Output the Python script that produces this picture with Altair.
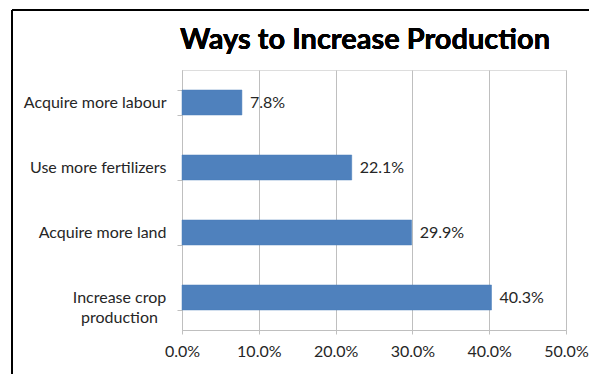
import altair as alt
import pandas as pd

title_text = "Ways to Increase Production"
categories = ["Acquire more labour", "Use more fertilizers", "Acquire more land", "Increase crop production"]
values = [7.8, 22.1, 29.9, 40.3]
x_ticks = [0, 10, 20, 30, 40, 50]

df = pd.DataFrame({"cat": categories, "val": values,
                   "lab": [f"{v:.1f}%" for v in values]})

FONT = "Lato"
GRAY = "#bfbfbf"
TXT = "#262626"
FS = 16
WRAPPED = "datum.value == 'Increase crop production'"

y_enc = alt.Y("cat:N", sort=categories,
              scale=alt.Scale(paddingInner=0.615, paddingOuter=0.3075),
              axis=alt.Axis(title=None, tickBand="extent", tickSize=5, tickColor=GRAY,
                            domainColor=GRAY,
                            labelPadding={"condition": {"test": WRAPPED, "value": 58}, "value": 11},
                            labelAlign={"condition": {"test": WRAPPED, "value": "center"}, "value": "right"},
                            labelFontSize=FS, labelColor=TXT, labelFont=FONT, grid=False,
                            labelExpr="datum.label == 'Increase crop production' ? ['Increase crop', 'production'] : datum.label",
                            labelLineHeight=20))
x_enc = alt.X("val:Q", scale=alt.Scale(domain=[0, 50], nice=False),
              axis=alt.Axis(title=None, values=x_ticks, labelExpr="format(datum.value, '.1f') + '%'",
                            tickSize=4, tickColor=GRAY, domainColor=GRAY, gridColor=GRAY,
                            labelFlush=False,
                            labelPadding=9, labelFontSize=FS, labelColor=TXT, labelFont=FONT))

bars = alt.Chart(df).mark_bar(color="#4F81BD", stroke="#4A7EBB", strokeWidth=0.5).encode(x=x_enc, y=y_enc)
texts = alt.Chart(df).mark_text(align="left", dx=8, fontSize=FS, font=FONT, color=TXT).encode(
    x="val:Q", y=alt.Y("cat:N", sort=categories), text="lab:N")

title = alt.Chart(df).mark_text(fontSize=29, font=FONT, fontWeight="bold", color="black",
                                align="center", baseline="alphabetic").encode(
    x=alt.value(183), y=alt.value(-21), text=alt.value(title_text))

frame_left = alt.Chart(df).mark_rule(color="black", strokeWidth=2).encode(
    x=alt.value(-170), y=alt.value(-60), y2=alt.value(304))
frame_top = alt.Chart(df).mark_rule(color="black", strokeWidth=2).encode(
    x=alt.value(-170), x2=alt.value(407), y=alt.value(-60))

chart = alt.layer(bars, texts, title, frame_left, frame_top).properties(
    width=384, height=260,
    autosize=alt.AutoSizeParams(type="none"),
    padding={"left": 182, "top": 70, "right": 23, "bottom": 44},
).configure_view(stroke=None).configure(background="white")

chart.save("out.html", embed_options={"renderer": "svg", "actions": False})
